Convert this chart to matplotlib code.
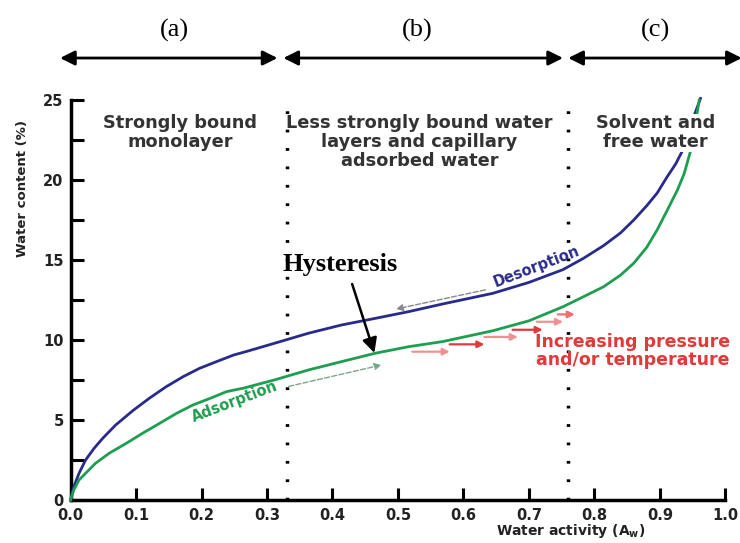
import numpy as np
import matplotlib
matplotlib.use("Agg")
import matplotlib.pyplot as plt

plt.rcParams['font.family'] = ['DejaVu Sans']
plt.rcParams['mathtext.fontset'] = 'custom'
plt.rcParams['mathtext.bf'] = 'DejaVu Sans:bold'

# Isotherms
aw_des = [0, 0.005, 0.013, 0.023, 0.036, 0.049, 0.069, 0.095, 0.12, 0.146, 0.172, 0.197,
          0.223, 0.249, 0.27, 0.311, 0.363, 0.414, 0.465, 0.516, 0.568, 0.645, 0.70,
          0.752, 0.783, 0.814, 0.84, 0.86, 0.88, 0.896, 0.911, 0.924, 0.934, 0.952, 0.962]
wc_des = [0, 0.83, 1.67, 2.5, 3.23, 3.85, 4.69, 5.58, 6.35, 7.08, 7.71, 8.23,
          8.65, 9.06, 9.3, 9.79, 10.42, 10.94, 11.35, 11.77, 12.25, 12.92, 13.6,
          14.4, 15.1, 15.9, 16.7, 17.5, 18.4, 19.2, 20.2, 21.0, 21.8, 24.0, 25.1]

aw_ads = [0, 0.005, 0.013, 0.023, 0.038, 0.059, 0.085, 0.11, 0.136, 0.162, 0.187, 0.213,
          0.238, 0.265, 0.311, 0.363, 0.414, 0.465, 0.516, 0.568, 0.619, 0.645, 0.70,
          0.752, 0.783, 0.814, 0.84, 0.86, 0.88, 0.896, 0.911, 0.927, 0.937, 0.946, 0.956, 0.96]
wc_ads = [0, 0.63, 1.25, 1.67, 2.29, 2.92, 3.54, 4.17, 4.79, 5.42, 5.94, 6.35,
          6.77, 7.0, 7.5, 8.125, 8.65, 9.17, 9.58, 9.9, 10.35, 10.58, 11.2,
          12.08, 12.7, 13.33, 14.06, 14.8, 15.8, 16.9, 18.1, 19.4, 20.4, 21.7, 24.0, 25.0]

zone_edges = [0.33, 0.76]
zone_letters = ['(a)', '(b)', '(c)']
zone_letter_x = [0.158, 0.53, 0.893]
zone_arrows = [(-0.016, 0.316), (0.325, 0.752), (0.76, 1.025)]
zone_texts = ['Strongly bound\nmonolayer',
              'Less strongly bound water\nlayers and capillary\nadsorbed water',
              'Solvent and\nfree water']
zone_text_x = [0.167, 0.533, 0.893]

# red "increasing pressure" arrows: (x start, x end, y)
red_arrows = [(0.522, 0.579, 9.27), (0.579, 0.632, 9.73), (0.632, 0.683, 10.19),
              (0.675, 0.721, 10.64), (0.712, 0.752, 11.14), (0.744, 0.770, 11.6)]
red_cols = ['#f09090', '#e03a3a', '#f09090', '#e03a3a', '#f09090', '#f07070']

fig = plt.figure(figsize=(7.4, 5.43), dpi=100)
ax = fig.add_axes([0.0953, 0.0792, 0.885, 0.7366])

ax.plot(aw_des, wc_des, color='#2a2a8c', lw=2.0, zorder=3, clip_on=False)
ax.plot(aw_ads, wc_ads, color='#1e9e50', lw=2.0, zorder=3, clip_on=False)

for xe in zone_edges:
    ax.plot([xe, xe], [0, 25], color='black', lw=2.5, ls=(0, (0.8, 4.5)), zorder=2)

ax.set_xlim(0, 1.0)
ax.set_ylim(0, 25)
ax.set_xticks(np.arange(0, 1.01, 0.1))
ax.set_xticklabels([f'{v:.1f}' for v in np.arange(0, 1.01, 0.1)])
ax.set_yticks([0, 5, 10, 15, 20, 25])
ax.set_yticks(np.arange(0, 25.1, 2.5), minor=True)
for s in ['top', 'right']:
    ax.spines[s].set_visible(False)
for s in ['left', 'bottom']:
    ax.spines[s].set_linewidth(2.5)
ax.tick_params(which='both', direction='in', length=9, width=2.2, colors='black')
ax.tick_params(axis='x', pad=6)
ax.tick_params(axis='y', pad=5)
for lab in ax.get_xticklabels() + ax.get_yticklabels():
    lab.set_fontweight('bold')
    lab.set_fontsize(10.5)
    lab.set_color('#222222')

ax.text(-0.073, 0.78, 'Water content (%)', transform=ax.transAxes, rotation=90,
        ha='center', va='center', fontsize=9.5, fontweight='bold', color='#222222')
ax.text(0.764, -0.078, r'Water activity (A$_\mathbf{w}$)', transform=ax.transAxes,
        ha='center', va='center', fontsize=10, fontweight='bold', color='#222222')

# zone arrows and letters above the plot
trans = ax.get_xaxis_transform()
for (x0, x1), lab, lx in zip(zone_arrows, zone_letters, zone_letter_x):
    ax.annotate('', xy=(x1, 1.105), xytext=(x0, 1.105), xycoords=trans, textcoords=trans,
                arrowprops=dict(arrowstyle='<|-|>', lw=2, color='black', mutation_scale=22,
                                shrinkA=0, shrinkB=0), annotation_clip=False)
    ax.text(lx, 1.175, lab, transform=trans, ha='center', va='center',
            family='Liberation Serif', fontsize=19)

for txt, tx in zip(zone_texts, zone_text_x):
    bb = dict(facecolor='white', edgecolor='none', pad=0.5) if txt.startswith('Solvent') else None
    ax.text(tx, 24.1, txt, ha='center', va='top', fontsize=12.8, fontweight='bold',
            color='#333333', linespacing=1.05, bbox=bb, zorder=5)

# curve labels
ax.text(0.712, 14.6, 'Desorption', rotation=21, rotation_mode='anchor', ha='center',
        va='center', fontsize=10.5, fontweight='bold', color='#2a2a8c', zorder=4)
ax.text(0.251, 6.14, 'Adsorption', rotation=21, rotation_mode='anchor', ha='center',
        va='center', fontsize=10.5, fontweight='bold', color='#1e9e50', zorder=4)

ax.annotate('', xy=(0.493, 11.9), xytext=(0.6375, 13.17),
            arrowprops=dict(arrowstyle='-|>', lw=1, ls='--', color='#888888', mutation_scale=10))
ax.annotate('', xy=(0.479, 8.48), xytext=(0.329, 7.06),
            arrowprops=dict(arrowstyle='-|>', lw=1, ls='--', color='#7aa88a', mutation_scale=10))

for (x0, x1, y), c in zip(red_arrows, red_cols):
    ax.annotate('', xy=(x1, y), xytext=(x0, y),
                arrowprops=dict(arrowstyle='-|>', lw=1.6, color=c, mutation_scale=10,
                                shrinkA=0, shrinkB=0))

ax.text(0.858, 9.3, 'Increasing pressure\nand/or temperature', ha='center', va='center',
        fontsize=12.5, fontweight='bold', color='#e03a3a', linespacing=1.0, zorder=4)

ax.text(0.412, 14.75, 'Hysteresis', ha='center', va='center', family='Liberation Serif',
        fontsize=19, fontweight='bold', color='black')
ax.annotate('', xy=(0.464, 9.19), xytext=(0.43, 13.5),
            arrowprops=dict(arrowstyle='-|>', lw=1.8, color='black', mutation_scale=22,
                            shrinkA=0, shrinkB=0))

fig.savefig('out.png', dpi=100)
